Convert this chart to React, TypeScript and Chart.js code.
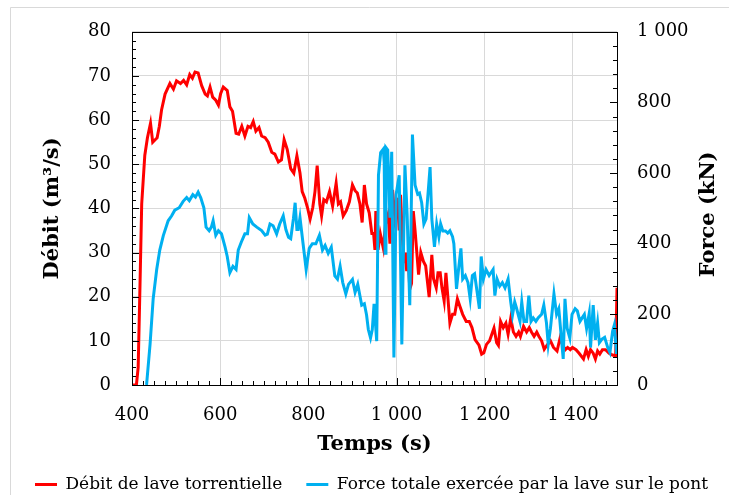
import React, { useEffect, useRef } from "react";
import { Chart, registerables } from "chart.js";

Chart.register(...registerables);

// ---------- Data ----------
const debitTimes = [
  400, 410, 414, 418, 422, 429, 435, 442, 447, 452, 457, 462, 467, 475, 486, 494, 501, 510, 517, 524,
  531, 537, 543, 550, 558, 566, 571, 577, 583, 590, 596, 601, 607, 616, 622, 628, 636, 642, 649, 656,
  663, 669, 675, 681, 688, 694, 702, 709, 717, 724, 732, 739, 745, 752, 760, 767, 774, 781, 786, 792,
  798, 804, 810, 815, 820, 826, 830, 835, 841, 848, 855, 863, 868, 873, 879, 886, 893, 900, 906, 911,
  917, 922, 927, 932, 938, 944, 948, 951, 953, 958, 963, 970, 975, 981, 985, 991, 996, 1002, 1006, 1009,
  1014, 1017, 1020, 1023, 1026, 1030, 1034, 1038, 1042, 1046, 1050, 1055, 1061, 1066, 1074, 1080, 1084, 1090, 1094, 1099,
  1103, 1108, 1112, 1121, 1127, 1132, 1138, 1143, 1150, 1158, 1165, 1171, 1178, 1187, 1193, 1198, 1204, 1211, 1221, 1227,
  1231, 1236, 1242, 1248, 1253, 1259, 1265, 1271, 1277, 1281, 1288, 1295, 1301, 1306, 1312, 1318, 1323, 1329, 1335, 1341,
  1349, 1356, 1364, 1371, 1377, 1383, 1388, 1394, 1399, 1407, 1414, 1424, 1430, 1435, 1440, 1446, 1451, 1456, 1461, 1467,
  1474, 1482, 1490, 1497, 1500,
];
const debitValues = [
  0, 0, 4, 22, 41, 52, 56, 59.3, 55, 55.5, 56, 58.6, 62.3, 65.9, 68.3, 67, 68.9, 68.3, 69, 68,
  70.3, 69.5, 70.9, 70.7, 67.8, 65.9, 65.5, 67.5, 65.2, 64.5, 63.4, 66, 67.5, 66.7, 63, 62, 57, 56.8, 58.6, 56.4,
  58.6, 58.3, 59.7, 57.5, 58.3, 56.4, 56, 55, 52.7, 52.3, 50.5, 51, 55.6, 53.4, 49, 48, 51.9, 48, 43.8, 42.3,
  40.2, 37.6, 40.2, 43.8, 49.7, 41, 38.3, 42, 41.5, 43.8, 40.5, 45.7, 41, 41.5, 38.3, 39.5, 41.5, 45.3, 44, 43.5,
  41, 36.8, 45.3, 41, 39, 34.3, 34.3, 30.6, 39.4, 30.6, 34.3, 31, 36.5, 38.7, 32, 44.2, 38, 42.4, 35, 43.1,
  32, 27.6, 30, 25.8, 30, 21.7, 23, 39.4, 35, 30, 25, 30, 28, 27, 19.9, 29.5, 24, 22, 25.4, 25.4,
  22, 19, 25.4, 14, 16, 16, 19.5, 18, 16, 14.4, 14.4, 13, 10.3, 9, 7, 7.3, 9.2, 10, 12.9, 9.6,
  9, 14.4, 13, 14, 11.5, 15.1, 12, 11, 12, 11, 13.3, 12, 13, 12, 11, 12, 11, 10, 8.1, 9,
  10, 8.5, 7.7, 10.7, 9, 8, 8.5, 8, 8.5, 8, 7.2, 5.9, 8, 6.5, 8, 7.2, 5.9, 7.7, 7, 8,
  8, 7.2, 6.8, 6.6, 22,
];

const forceTimes = [
  433, 441, 448, 456, 463, 471, 482, 490, 497, 507, 516, 524, 530, 538, 544, 550, 556, 563, 568, 575,
  580, 584, 590, 596, 603, 611, 616, 622, 629, 636, 641, 648, 656, 662, 666, 674, 683, 694, 702, 707,
  713, 720, 728, 735, 743, 749, 755, 760, 766, 770, 774, 777, 781, 788, 795, 802, 809, 817, 825, 832,
  838, 845, 852, 860, 866, 872, 878, 885, 891, 900, 906, 912, 921, 927, 932, 936, 941, 945, 949, 955,
  959, 964, 970, 972, 974, 976, 980, 985, 989, 994, 999, 1006, 1012, 1019, 1024, 1030, 1036, 1042, 1048, 1052,
  1057, 1062, 1067, 1076, 1080, 1086, 1091, 1096, 1100, 1105, 1111, 1116, 1121, 1127, 1130, 1136, 1140, 1146, 1150, 1156,
  1162, 1167, 1172, 1177, 1188, 1192, 1197, 1203, 1210, 1219, 1223, 1228, 1234, 1240, 1246, 1253, 1259, 1263, 1268, 1272,
  1280, 1284, 1289, 1295, 1300, 1305, 1310, 1316, 1321, 1329, 1334, 1340, 1344, 1349, 1357, 1363, 1368, 1373, 1378, 1382,
  1387, 1393, 1398, 1405, 1410, 1416, 1421, 1426, 1431, 1437, 1440, 1446, 1451, 1456, 1460, 1466, 1472, 1479, 1484, 1490,
  1494, 1499,
];
const forceValues = [
  0, 116, 244, 327, 382, 423, 465, 479, 495, 502, 520, 531, 522, 539, 532, 546, 530, 502, 447, 437,
  447, 465, 424, 437, 428, 391, 364, 318, 336, 327, 382, 405, 428, 428, 474, 456, 447, 437, 424, 427,
  456, 451, 428, 456, 479, 440, 418, 414, 470, 516, 440, 440, 474, 400, 327, 387, 400, 400, 424, 382,
  395, 373, 390, 309, 300, 336, 290, 258, 285, 299, 262, 285, 226, 230, 198, 157, 133, 157, 230, 124,
  594, 658, 668, 630, 373, 672, 665, 474, 660, 78, 539, 594, 115, 622, 483, 226, 709, 566, 540, 543,
  516, 456, 470, 617, 470, 391, 456, 420, 456, 436, 436, 430, 437, 420, 400, 272, 320, 387, 300, 310,
  290, 244, 310, 315, 216, 364, 300, 327, 310, 327, 253, 300, 280, 290, 275, 300, 235, 198, 235, 218,
  180, 235, 180, 180, 253, 180, 190, 180, 190, 200, 226, 176, 115, 160, 258, 200, 216, 145, 74, 244,
  160, 133, 200, 216, 210, 180, 190, 200, 160, 203, 106, 226, 128, 176, 120, 130, 135, 106, 92, 152,
  170, 88,
];

const xTickValues = [400, 600, 800, 1000, 1200, 1400];
const leftTickValues = [0, 10, 20, 30, 40, 50, 60, 70, 80];
const rightTickValues = [0, 200, 400, 600, 800, 1000];

const seriesNames = ["Débit de lave torrentielle", "Force totale exercée par la lave sur le pont"];
const axisTitles = { x: "Temps (s)", left: "Débit (m³/s)", right: "Force (kN)" };

// ---------- Style ----------
const RED = "#FF0000";
const BLUE = "#00B0F0";
const GRID = "#d9d9d9";
const FONT = "'DejaVu Serif', 'Liberation Serif', serif";

const W = 729;
const H = 495;
const PAD_L = 0;
const PAD_R = -14;
const PLOT_L = 132;
const PLOT_R = 617;
const PLOT_T = 23;
const PLOT_B = 385;
const LEGEND_FONT = 17;
const LEGEND_PAD = 24;
const PAD_B = -8;
const LEGEND_H = LEGEND_FONT + LEGEND_PAD + 10;
const LEGEND_TOP = H - PAD_B - LEGEND_H;

const fmt = (v: number) => String(v).replace(/\B(?=(\d{3})+(?!\d))/g, " ");

const framePlugin = {
  id: "frameTicks",
  beforeDraw(chart: any) {
    const ctx = chart.ctx;
    ctx.save();
    ctx.fillStyle = "#fff";
    ctx.fillRect(0, 0, chart.width, chart.height);
    ctx.strokeStyle = "#d9d9d9";
    ctx.lineWidth = 1;
    ctx.beginPath();
    ctx.moveTo(10.5, chart.height);
    ctx.lineTo(10.5, 7.5);
    ctx.lineTo(chart.width, 7.5);
    ctx.stroke();
    ctx.restore();
  },
  afterDatasetsDraw(chart: any) {
    const { ctx, chartArea } = chart;
    const { left, right, top, bottom } = chartArea;
    const xs = chart.scales.x;
    const yl = chart.scales.y;
    const yr = chart.scales.y1;
    ctx.save();
    ctx.strokeStyle = "#000";
    ctx.lineWidth = 1;
    ctx.beginPath();
    for (let v = 400; v <= 1500; v += 25) {
      const p = Math.round(xs.getPixelForValue(v)) + 0.5;
      const len = v % 200 === 0 ? 7 : 4;
      ctx.moveTo(p, bottom);
      ctx.lineTo(p, bottom - len);
    }
    for (let v = 0; v <= 80; v += 2) {
      const p = Math.round(yl.getPixelForValue(v)) + 0.5;
      const len = v % 10 === 0 ? 7 : 4;
      ctx.moveTo(left, p);
      ctx.lineTo(left + len, p);
    }
    for (let v = 0; v <= 1000; v += 40) {
      const p = Math.round(yr.getPixelForValue(v)) + 0.5;
      const len = v % 200 === 0 ? 7 : 4;
      ctx.moveTo(right, p);
      ctx.lineTo(right - len, p);
    }
    ctx.stroke();
    ctx.strokeRect(Math.round(left) + 0.5, Math.round(top) + 0.5, Math.round(right - left), Math.round(bottom - top));
    ctx.restore();
  },
  afterDraw(chart: any) {
    // right axis title, reading bottom-to-top like the reference
    const { ctx, chartArea } = chart;
    ctx.save();
    ctx.fillStyle = "#000";
    ctx.font = `bold 21px ${FONT}`;
    ctx.textAlign = "center";
    ctx.textBaseline = "middle";
    ctx.translate(709, (chartArea.top + chartArea.bottom) / 2 + 6);
    ctx.rotate(-Math.PI / 2);
    ctx.fillText(axisTitles.right, 0, 0);
    ctx.restore();
  },
};

export default function App() {
  const ref = useRef<HTMLCanvasElement | null>(null);

  useEffect(() => {
    if (!ref.current) return;
    const debitData = debitTimes.map((t, i) => ({ x: t, y: debitValues[i] }));
    const forceData = forceTimes.map((t, i) => ({ x: t, y: forceValues[i] }));

    const chart = new Chart(ref.current, {
      type: "line",
      data: {
        datasets: [
          {
            label: seriesNames[0],
            data: debitData,
            borderColor: RED,
            backgroundColor: RED,
            borderWidth: 3,
            pointRadius: 0,
            tension: 0,
            yAxisID: "y",
            order: 2,
          },
          {
            label: seriesNames[1],
            data: forceData,
            borderColor: BLUE,
            backgroundColor: BLUE,
            borderWidth: 3,
            pointRadius: 0,
            tension: 0,
            yAxisID: "y1",
            order: 1,
          },
        ],
      },
      options: {
        animation: false,
        responsive: false,
        devicePixelRatio: 1,
        layout: { padding: { left: PAD_L, right: PAD_R, top: PLOT_T, bottom: PAD_B } },
        plugins: {
          tooltip: { enabled: false },
          legend: {
            position: "bottom",
            labels: {
              boxWidth: 22,
              boxHeight: 3,
              padding: LEGEND_PAD,
              color: "#000",
              font: { family: FONT, size: LEGEND_FONT },
              sort: (a: any, b: any) => a.datasetIndex - b.datasetIndex,
              generateLabels: (chart: any) =>
                Chart.defaults.plugins.legend.labels
                  .generateLabels(chart)
                  .map((l: any) => ({ ...l, lineWidth: 0 })),
            },
          },
        },
        scales: {
          x: {
            type: "linear",
            min: 400,
            max: 1500,
            afterBuildTicks: (s: any) => {
              s.ticks = xTickValues.map((v) => ({ value: v }));
            },
            afterFit: (s: any) => {
              s.height = LEGEND_TOP - PLOT_B;
            },
            grid: { color: GRID, lineWidth: 1, drawTicks: false },
            border: { display: false },
            ticks: {
              padding: 20,
              color: "#000",
              font: { family: FONT, size: 18 },
              maxRotation: 0,
              autoSkip: false,
              callback: (v: any) => fmt(Number(v)),
            },
            title: {
              display: true,
              text: axisTitles.x,
              color: "#000",
              font: { family: FONT, size: 21, weight: "bold" },
              padding: { top: 0, bottom: -5 },
            },
          },
          y: {
            type: "linear",
            position: "left",
            min: 0,
            max: 80,
            afterBuildTicks: (s: any) => {
              s.ticks = leftTickValues.map((v) => ({ value: v }));
            },
            afterFit: (s: any) => {
              s.width = PLOT_L - PAD_L;
            },
            grid: { color: GRID, lineWidth: 1, drawTicks: false },
            border: { display: false },
            ticks: {
              padding: 21,
              color: "#000",
              font: { family: FONT, size: 18 },
              autoSkip: false,
              callback: (v: any) => fmt(Number(v)),
            },
            title: {
              display: true,
              text: axisTitles.left,
              color: "#000",
              font: { family: FONT, size: 21, weight: "bold" },
              padding: { top: 40, bottom: 0 },
            },
          },
          y1: {
            type: "linear",
            position: "right",
            min: 0,
            max: 1000,
            afterBuildTicks: (s: any) => {
              s.ticks = rightTickValues.map((v) => ({ value: v }));
            },
            afterFit: (s: any) => {
              s.width = W - PAD_R - PLOT_R;
            },
            grid: { display: false, drawTicks: false },
            border: { display: false },
            ticks: {
              padding: 20,
              color: "#000",
              font: { family: FONT, size: 18 },
              autoSkip: false,
              callback: (v: any) => fmt(Number(v)),
            },
            title: { display: false, text: axisTitles.right },
          },
        },
      },
      plugins: [framePlugin],
    } as any);

    return () => chart.destroy();
  }, []);

  return (
    <div style={{ position: "fixed", left: 0, top: 0, width: W, height: H, background: "#fff" }}>
      <canvas ref={ref} width={W} height={H} style={{ width: W, height: H, display: "block" }} />
    </div>
  );
}
